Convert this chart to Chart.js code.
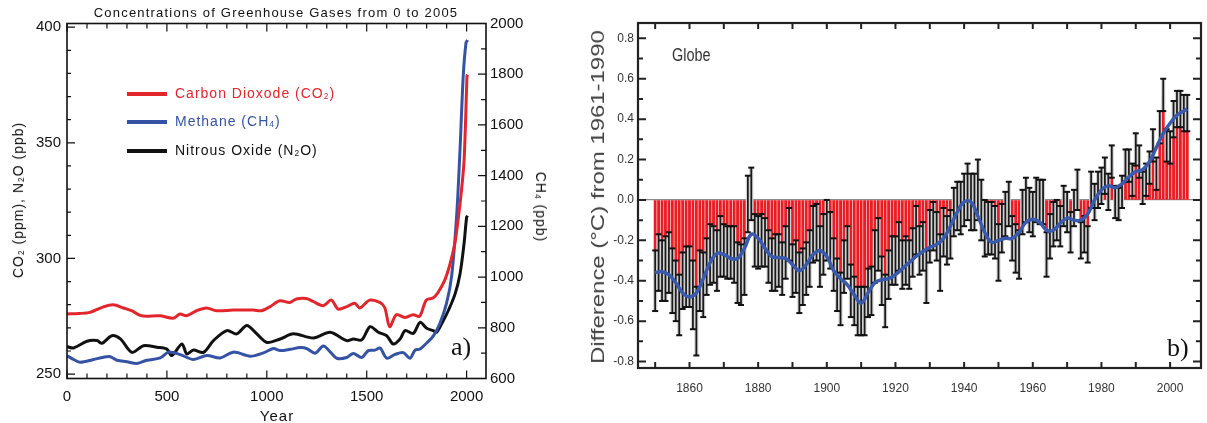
<!DOCTYPE html>
<html>
<head>
<meta charset="utf-8">
<script src="https://cdn.jsdelivr.net/npm/chart.js@4.4.1/dist/chart.umd.min.js"></script>
<style>
html, body { margin: 0; padding: 0; background: #fff; }
#wrap { position: relative; width: 1207px; height: 423px; overflow: hidden; font-family: "Liberation Sans", Arial, sans-serif; }
canvas { position: absolute; top: 0; }
#gasChart { left: 0; }
#tempChart { left: 560px; }
.txt { position: absolute; white-space: nowrap; line-height: 1; }
.leg { position: absolute; height: 4px; width: 40px; left: 127px; }
sub { font-size: 60%; vertical-align: -0.15em; line-height: 0; }
</style>
</head>
<body>
<div id="wrap">
  <canvas id="gasChart" width="560" height="423"></canvas>
  <canvas id="tempChart" width="647" height="423"></canvas>

  <div class="txt" style="left:276px;top:6px;transform:translateX(-50%);font-size:13px;letter-spacing:1.2px;color:#111;">Concentrations of Greenhouse Gases from 0 to 2005</div>
  <div class="txt" style="left:18px;top:200px;transform:translate(-50%,-50%) rotate(-90deg);font-size:14px;letter-spacing:1px;color:#111;">CO<sub>2</sub> (ppm), N<sub>2</sub>O (ppb)</div>
  <div class="txt" style="left:541px;top:207px;transform:translate(-50%,-50%) rotate(90deg);font-size:14px;letter-spacing:1px;color:#111;">CH<sub>4</sub> (ppb)</div>
  <div class="txt" style="left:277px;top:408px;transform:translateX(-50%);font-size:15px;letter-spacing:1px;color:#111;">Year</div>

  <div class="leg" style="top:92px;background:#e3262c;"></div>
  <div class="leg" style="top:120px;background:#3553a5;"></div>
  <div class="leg" style="top:149px;background:#111;"></div>
  <div class="txt" style="left:175px;top:86px;font-size:14px;letter-spacing:1px;color:#e3262c;">Carbon Dioxode (CO<sub>2</sub>)</div>
  <div class="txt" style="left:175px;top:114px;font-size:14px;letter-spacing:1px;color:#3553a5;">Methane (CH<sub>4</sub>)</div>
  <div class="txt" style="left:175px;top:143px;font-size:14px;letter-spacing:1px;color:#111;">Nitrous Oxide (N<sub>2</sub>O)</div>
  <div class="txt" style="left:451px;top:334px;font-family:'Liberation Serif','Times New Roman',serif;font-size:26px;color:#111;">a)</div>

  <div class="txt" style="left:598px;top:197px;transform:translate(-50%,-50%) rotate(-90deg) scaleX(1.33);font-size:18px;color:#444;">Difference (°C) from 1961-1990</div>
  <div class="txt" style="left:672px;top:46px;transform-origin:0 0;transform:scale(0.85,1.1);font-size:17px;color:#333;">Globe</div>
  <div class="txt" style="left:1167px;top:335px;font-family:'Liberation Serif','Times New Roman',serif;font-size:26px;color:#111;">b)</div>
</div>

<script>
// ---- panel a) : greenhouse gas concentrations ----
const co2Years = [0, 60, 115, 182, 232, 282, 323, 373, 465, 532, 565, 598, 648, 698, 748, 832, 932, 973, 1015, 1065, 1115, 1148, 1198, 1232, 1282, 1323, 1357, 1398, 1440, 1465, 1515, 1565, 1590, 1615, 1648, 1690, 1732, 1765, 1798, 1832, 1857, 1890, 1917, 1940, 1958, 1975, 1987, 1995, 2002, 2005];
const co2Values = [276.0, 276.2, 276.7, 279.1, 280.0, 278.6, 277.4, 275.2, 275.2, 274.2, 276.0, 275.2, 277.4, 278.6, 277.4, 277.7, 277.7, 277.4, 279.1, 281.7, 281.0, 282.5, 282.7, 281.4, 279.6, 282.0, 278.1, 279.1, 280.6, 278.6, 282.0, 281.0, 278.8, 270.5, 275.7, 274.5, 275.7, 275.0, 282.0, 282.9, 285.3, 290.5, 297.6, 306.0, 317.0, 330.0, 342.0, 360.0, 379.0, 379.5];

const ch4Years = [0, 33, 67, 133, 183, 217, 250, 300, 350, 400, 467, 508, 567, 633, 700, 767, 833, 917, 983, 1033, 1067, 1117, 1167, 1200, 1242, 1283, 1317, 1350, 1400, 1433, 1475, 1508, 1542, 1567, 1600, 1642, 1683, 1717, 1742, 1767, 1800, 1833, 1867, 1900, 1925, 1950, 1967, 1983, 1997, 2005];
const ch4Values = [690, 675, 664, 675, 684, 686, 672, 666, 659, 672, 681, 704, 694, 675, 691, 681, 704, 688, 701, 718, 710, 715, 722, 718, 700, 728, 705, 680, 683, 699, 683, 710, 712, 720, 680, 695, 702, 680, 712, 716, 740, 767, 819, 898, 1004, 1240, 1503, 1792, 1924, 1935];

const n2oYears = [0, 33, 100, 150, 175, 225, 267, 325, 383, 450, 500, 525, 575, 600, 633, 683, 733, 800, 850, 900, 950, 1000, 1067, 1133, 1233, 1317, 1400, 1433, 1475, 1517, 1558, 1600, 1633, 1667, 1692, 1733, 1767, 1800, 1833, 1850, 1883, 1908, 1942, 1967, 1987, 2000, 2005];
const n2oValues = [261.9, 261.3, 264.2, 264.5, 263.3, 266.6, 265.2, 259.4, 262.3, 261.6, 260.8, 258.0, 263.0, 258.7, 260.4, 259.4, 264.5, 268.8, 267.4, 271.0, 267.4, 263.7, 265.2, 267.4, 265.6, 268.1, 264.5, 265.2, 264.8, 270.5, 268.1, 266.6, 263.0, 265.2, 268.8, 267.6, 272.4, 269.8, 268.8, 268.1, 273.1, 277.4, 284.6, 293.3, 306.3, 317.8, 318.5];

const gasXLabels = [0, 500, 1000, 1500, 2000];
const gasLeftLabels = [250, 300, 350, 400];
const gasRightLabels = [600, 800, 1000, 1200, 1400, 1600, 1800, 2000];
const gasXMinor = [100, 200, 300, 400, 600, 700, 800, 900, 1100, 1200, 1300, 1400, 1600, 1700, 1800, 1900];
const gasLeftMinor = [260, 270, 280, 290, 310, 320, 330, 340, 360, 370, 380, 390];
const gasRightMinor = [700, 900, 1100, 1300, 1500, 1700, 1900];

// ---- panel b) : global temperature anomaly (1850..2005) ----
const firstYear = 1850;
const anomaly = [
  -0.40, -0.31, -0.35, -0.34, -0.31, -0.40, -0.45, -0.52, -0.40, -0.38,
  -0.38, -0.47, -0.60, -0.40, -0.42, -0.33, -0.27, -0.27, -0.30, -0.23,
  -0.25, -0.26, -0.26, -0.27, -0.36, -0.37, -0.33, -0.02, 0.03, -0.20,
  -0.21, -0.20, -0.21, -0.28, -0.32, -0.31, -0.30, -0.34, -0.26, -0.17,
  -0.35, -0.33, -0.41, -0.38, -0.34, -0.29, -0.17, -0.16, -0.28, -0.22,
  -0.15, -0.20, -0.32, -0.42, -0.49, -0.33, -0.26, -0.45, -0.50, -0.55,
  -0.55, -0.55, -0.46, -0.45, -0.28, -0.22, -0.40, -0.50, -0.37, -0.30,
  -0.30, -0.23, -0.32, -0.30, -0.32, -0.26, -0.15, -0.25, -0.23, -0.38,
  -0.18, -0.13, -0.18, -0.31, -0.16, -0.20, -0.17, -0.06, -0.03, -0.04,
  0.00, 0.04, -0.01, -0.01, 0.05, -0.05, -0.14, -0.14, -0.14, -0.16,
  -0.26, -0.14, -0.07, -0.02, -0.19, -0.24, -0.27, -0.06, 0.00, -0.05,
  -0.07, 0.00, -0.01, -0.01, -0.27, -0.18, -0.12, -0.10, -0.13, -0.03,
  -0.06, -0.16, -0.04, 0.05, -0.20, -0.17, -0.22, 0.05, -0.01, 0.05,
  0.07, 0.12, 0.04, 0.19, -0.01, -0.02, 0.04, 0.17, 0.17, 0.10,
  0.25, 0.19, 0.06, 0.10, 0.16, 0.27, 0.13, 0.36, 0.52, 0.27,
  0.26, 0.40, 0.45, 0.45, 0.43, 0.43
];
const halfRange = [
  0.15, 0.14, 0.15, 0.16, 0.15, 0.16, 0.15, 0.15, 0.14, 0.15,
  0.15, 0.17, 0.17, 0.15, 0.16, 0.14, 0.15, 0.14, 0.15, 0.15,
  0.13, 0.13, 0.13, 0.14, 0.15, 0.15, 0.14, 0.14, 0.13, 0.13,
  0.13, 0.13, 0.12, 0.13, 0.13, 0.14, 0.13, 0.13, 0.13, 0.13,
  0.13, 0.13, 0.15, 0.14, 0.13, 0.14, 0.14, 0.14, 0.15, 0.15,
  0.15, 0.14, 0.13, 0.13, 0.13, 0.13, 0.13, 0.13, 0.12, 0.12,
  0.12, 0.12, 0.12, 0.12, 0.13, 0.13, 0.12, 0.13, 0.12, 0.12,
  0.12, 0.12, 0.12, 0.12, 0.12, 0.12, 0.12, 0.12, 0.12, 0.13,
  0.13, 0.12, 0.12, 0.14, 0.12, 0.12, 0.12, 0.12, 0.12, 0.13,
  0.13, 0.14, 0.14, 0.14, 0.15, 0.15, 0.14, 0.13, 0.13, 0.13,
  0.14, 0.12, 0.11, 0.11, 0.11, 0.12, 0.12, 0.11, 0.11, 0.11,
  0.11, 0.11, 0.11, 0.11, 0.11, 0.11, 0.11, 0.10, 0.10, 0.10,
  0.10, 0.10, 0.09, 0.10, 0.09, 0.09, 0.09, 0.09, 0.09, 0.09,
  0.09, 0.09, 0.09, 0.08, 0.08, 0.08, 0.08, 0.08, 0.08, 0.08,
  0.08, 0.08, 0.08, 0.08, 0.08, 0.08, 0.08, 0.08, 0.08, 0.08,
  0.08, 0.09, 0.09, 0.09, 0.09, 0.09
];
// decadal smoothed curve
const smoothYears = [1850, 1852, 1854, 1856, 1858, 1860, 1862, 1864, 1866, 1868, 1870, 1872, 1874, 1876, 1878, 1880, 1882, 1884, 1886, 1888, 1890, 1892, 1894, 1896, 1898, 1900, 1902, 1904, 1906, 1908, 1910, 1912, 1914, 1916, 1918, 1920, 1922, 1924, 1926, 1928, 1930, 1932, 1934, 1936, 1938, 1940, 1942, 1944, 1946, 1948, 1950, 1952, 1954, 1956, 1958, 1960, 1962, 1964, 1966, 1968, 1970, 1972, 1974, 1976, 1978, 1980, 1982, 1984, 1986, 1988, 1990, 1992, 1994, 1996, 1998, 2000, 2002, 2004, 2005];
const smoothValues = [-0.36, -0.355, -0.37, -0.41, -0.46, -0.48, -0.46, -0.39, -0.31, -0.265, -0.27, -0.29, -0.29, -0.24, -0.17, -0.19, -0.24, -0.28, -0.285, -0.29, -0.32, -0.35, -0.32, -0.27, -0.25, -0.28, -0.35, -0.39, -0.42, -0.47, -0.51, -0.46, -0.41, -0.395, -0.39, -0.37, -0.34, -0.31, -0.28, -0.255, -0.235, -0.22, -0.19, -0.13, -0.06, -0.01, -0.01, -0.08, -0.16, -0.21, -0.20, -0.19, -0.19, -0.16, -0.11, -0.095, -0.11, -0.15, -0.15, -0.115, -0.09, -0.10, -0.10, -0.07, 0.0, 0.05, 0.07, 0.06, 0.08, 0.115, 0.14, 0.15, 0.19, 0.26, 0.33, 0.38, 0.42, 0.44, 0.45];

const tempXLabels = [1860, 1880, 1900, 1920, 1940, 1960, 1980, 2000];
const tempXMinor = [1850, 1870, 1890, 1910, 1930, 1950, 1970, 1990];
const tempYLabels = [-0.8, -0.6, -0.4, -0.2, 0.0, 0.2, 0.4, 0.6, 0.8];
const tempYMinor = [-0.7, -0.5, -0.3, -0.1, 0.1, 0.3, 0.5, 0.7];

// box with inward ticks on all four sides
const frameTicks = {
  id: 'frameTicks',
  afterDatasetsDraw(chart, args, opts) {
    const { ctx, chartArea: a, scales } = chart;
    ctx.save();
    ctx.strokeStyle = opts.color;
    ctx.lineWidth = opts.tickWidth;
    ctx.beginPath();
    opts.marks.forEach(m => {
      const sc = scales[m.scale];
      m.values.forEach(v => {
        const p = sc.getPixelForValue(v);
        if (m.scale === 'x') {
          ctx.moveTo(p, a.bottom); ctx.lineTo(p, a.bottom - m.len);
          ctx.moveTo(p, a.top); ctx.lineTo(p, a.top + m.len);
        } else {
          m.sides.forEach(s => {
            const x0 = s === 'left' ? a.left : a.right;
            ctx.moveTo(x0, p); ctx.lineTo(s === 'left' ? x0 + m.len : x0 - m.len, p);
          });
        }
      });
    });
    ctx.stroke();
    ctx.lineWidth = opts.width;
    ctx.strokeRect(a.left, a.top, a.right - a.left, a.bottom - a.top);
    ctx.restore();
  }
};

const pts = (xs, ys) => xs.map((x, i) => ({ x: x, y: ys[i] }));
const tickFix = list => scale => { scale.ticks = list.map(v => ({ value: v })); };
const plain = v => String(v);

new Chart(document.getElementById('gasChart'), {
  type: 'line',
  data: {
    datasets: [
      { data: pts(co2Years, co2Values), yAxisID: 'y', borderColor: '#e3262c', borderWidth: 3, tension: 0.3, pointRadius: 0 },
      { data: pts(ch4Years, ch4Values), yAxisID: 'y2', borderColor: '#3553a5', borderWidth: 3, tension: 0.3, pointRadius: 0 },
      { data: pts(n2oYears, n2oValues), yAxisID: 'y', borderColor: '#111111', borderWidth: 3, tension: 0.3, pointRadius: 0 }
    ]
  },
  options: {
    responsive: false,
    animation: false,
    layout: { padding: { top: 23.5, left: 0, right: 0, bottom: 0 } },
    scales: {
      x: {
        type: 'linear', min: 0, max: 2097,
        afterBuildTicks: tickFix(gasXLabels),
        afterFit: s => { s.height = 44.5; },
        grid: { display: false, drawTicks: false }, border: { display: false },
        ticks: { color: '#111', font: { family: 'Liberation Sans', size: 15 }, padding: 9, maxRotation: 0, callback: plain }
      },
      y: {
        position: 'left', min: 248.1, max: 401.6,
        afterBuildTicks: tickFix(gasLeftLabels),
        afterFit: s => { s.width = 67; },
        grid: { display: false, drawTicks: false }, border: { display: false },
        ticks: { color: '#111', font: { family: 'Liberation Sans', size: 15 }, padding: 6, callback: plain }
      },
      y2: {
        position: 'right', min: 600, max: 2000,
        afterBuildTicks: tickFix(gasRightLabels),
        afterFit: s => { s.width = 74; },
        grid: { display: false, drawTicks: false }, border: { display: false },
        ticks: { color: '#111', font: { family: 'Liberation Sans', size: 15 }, padding: 4, callback: plain }
      }
    },
    plugins: {
      legend: { display: false },
      tooltip: { enabled: false },
      frameTicks: {
        color: '#111', width: 1.6, tickWidth: 1.2,
        marks: [
          { scale: 'x', values: gasXLabels, len: 8 },
          { scale: 'x', values: gasXMinor, len: 5 },
          { scale: 'y', values: gasLeftLabels, len: 8, sides: ['left'] },
          { scale: 'y', values: gasLeftMinor, len: 4, sides: ['left'] },
          { scale: 'y2', values: gasRightLabels, len: 8, sides: ['right'] },
          { scale: 'y2', values: gasRightMinor, len: 5, sides: ['right'] }
        ]
      }
    }
  },
  plugins: [frameTicks]
});

const yearsB = anomaly.map((v, i) => firstYear + i);
const capPoints = [];
yearsB.forEach((yr, i) => {
  capPoints.push({ x: yr, y: anomaly[i] - halfRange[i] });
  capPoints.push({ x: yr, y: anomaly[i] + halfRange[i] });
});
const rangeBars = yearsB.map((yr, i) => ({ x: yr, y: [anomaly[i] - halfRange[i], anomaly[i] + halfRange[i]] }));

new Chart(document.getElementById('tempChart'), {
  data: {
    datasets: [
      { type: 'line', data: pts(smoothYears, smoothValues), borderColor: '#3a5aad', borderWidth: 3.5, tension: 0.4, pointRadius: 0, order: 0 },
      { type: 'scatter', data: capPoints, pointStyle: 'line', pointRadius: 3, borderColor: '#111', borderWidth: 2, order: 1 },
      { type: 'bar', data: rangeBars, backgroundColor: '#1a1a1a', barThickness: 1.1, grouped: false, order: 2 },
      { type: 'bar', data: rangeBars, backgroundColor: '#d2d2d2', barThickness: 3.4, grouped: false, order: 3 },
      { type: 'bar', data: pts(yearsB, anomaly), backgroundColor: '#ea1c24', barThickness: 2.2, grouped: false, order: 4 }
    ]
  },
  options: {
    responsive: false,
    animation: false,
    layout: { padding: { top: 23, left: 0, right: 1, bottom: 0 } },
    scales: {
      x: {
        type: 'linear', min: 1845, max: 2009, offset: false,
        afterBuildTicks: tickFix(tempXLabels),
        afterFit: s => { s.height = 55; },
        grid: { display: false, drawTicks: false }, border: { display: false },
        ticks: { color: '#333', font: { family: 'Liberation Sans', size: 12 }, padding: 13, maxRotation: 0, callback: plain }
      },
      y: {
        min: -0.832, max: 0.876,
        afterBuildTicks: tickFix(tempYLabels),
        afterFit: s => { s.width = 78; },
        grid: { drawTicks: false, color: c => (c.tick && c.tick.value === 0 ? '#8a8a8a' : 'rgba(0,0,0,0)'), lineWidth: 1.2 },
        border: { display: false },
        ticks: { color: '#333', font: { family: 'Liberation Sans', size: 12 }, padding: 4, callback: v => v.toFixed(1) }
      }
    },
    plugins: {
      legend: { display: false },
      tooltip: { enabled: false },
      frameTicks: {
        color: '#222', width: 2.2, tickWidth: 2,
        marks: [
          { scale: 'x', values: tempXLabels, len: 6 },
          { scale: 'x', values: tempXMinor, len: 6 },
          { scale: 'y', values: tempYLabels, len: 8, sides: ['left', 'right'] },
          { scale: 'y', values: tempYMinor, len: 5, sides: ['left', 'right'] }
        ]
      }
    }
  },
  plugins: [frameTicks]
});
</script>
</body>
</html>
